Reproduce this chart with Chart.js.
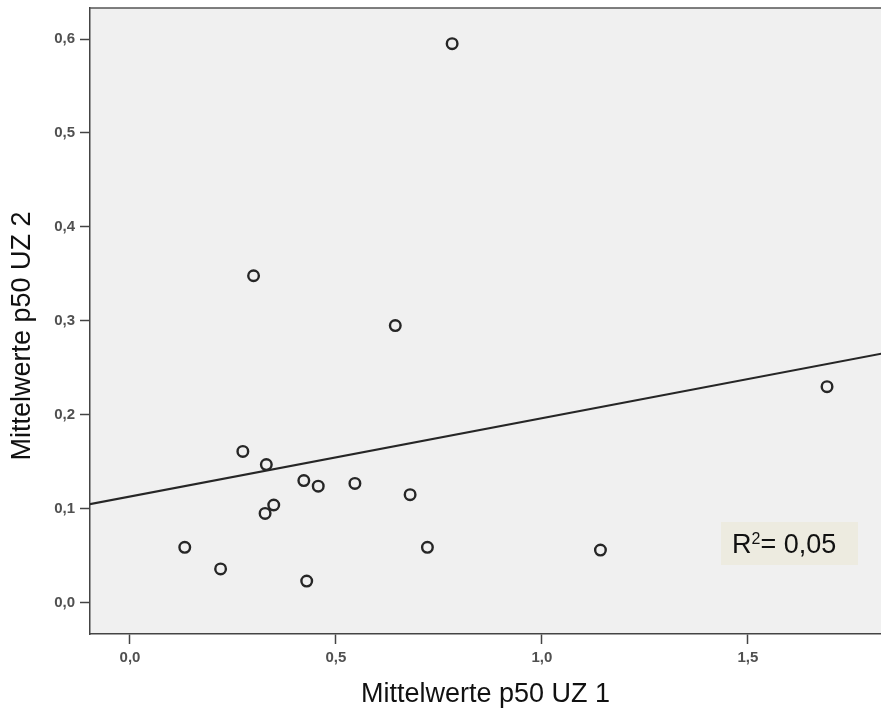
<!DOCTYPE html>
<html>
<head>
<meta charset="utf-8">
<script src="https://cdn.jsdelivr.net/npm/chart.js@4.4.1/dist/chart.umd.min.js"></script>
<style>
    html, body { margin: 0; padding: 0; background: #ffffff; overflow: hidden; }
    #wrap { width: 881px; height: 711px; }
</style>
</head>
<body>
<div id="wrap"><canvas id="scatterChart" width="881" height="711"></canvas></div>
<script>
// Mittelwerte p50
const uz1Values = [0.782, 0.300, 0.644, 1.692, 0.274, 0.331, 0.422, 0.457, 0.546,
                   0.680, 0.349, 0.328, 0.133, 0.220, 0.429, 0.722, 1.142];
const uz2Values = [0.595, 0.348, 0.295, 0.230, 0.161, 0.147, 0.130, 0.124, 0.127,
                   0.115, 0.104, 0.095, 0.059, 0.036, 0.023, 0.059, 0.056];

// linear fit line (two end points)
const fitX = [-0.1, 1.85];
const fitY = [0.1047, 0.2673];

const xTickValues = [0.0, 0.5, 1.0, 1.5];
const yTickValues = [0.0, 0.1, 0.2, 0.3, 0.4, 0.5, 0.6];

const rSquaredValue = '0,05';
const xAxisTitle = 'Mittelwerte p50 UZ 1';
const yAxisTitle = 'Mittelwerte p50 UZ 2';

const fontFamily = "'Liberation Sans', Arial, Helvetica, sans-serif";

function formatTick(value) {
    return value.toFixed(1).replace('.', ',');
}

// plot background, top frame, y title and the R² box
const framePlugin = {
    id: 'framePlugin',
    beforeDraw(chart) {
        const { ctx, chartArea: a } = chart;
        ctx.save();
        ctx.fillStyle = '#f0f0f0';
        ctx.fillRect(a.left, a.top, a.right - a.left, a.bottom - a.top);
        ctx.restore();
    },
    afterDraw(chart) {
        const { ctx, chartArea: a } = chart;
        ctx.save();
        ctx.strokeStyle = '#555555';
        ctx.lineWidth = 1.5;
        ctx.beginPath();
        ctx.moveTo(a.left, a.top);
        ctx.lineTo(a.right, a.top);
        ctx.stroke();

        // y axis title (sits a little below the middle, as in SPSS)
        ctx.save();
        ctx.translate(23, (a.top + a.bottom) / 2 + 15);
        ctx.rotate(-Math.PI / 2);
        ctx.fillStyle = '#111111';
        ctx.font = '27px ' + fontFamily;
        ctx.textAlign = 'center';
        ctx.textBaseline = 'middle';
        ctx.fillText(yAxisTitle, 0, 0);
        ctx.restore();

        // R² label box
        const boxW = 137, boxH = 43;
        const boxX = a.right - 23 - boxW;
        const boxY = a.bottom - 69 - boxH;
        ctx.fillStyle = '#edebe0';
        ctx.fillRect(boxX, boxY, boxW, boxH);

        ctx.fillStyle = '#111111';
        ctx.textBaseline = 'alphabetic';
        ctx.textAlign = 'left';
        let tx = boxX + 11;
        const baseY = boxY + 31;
        ctx.font = '27px ' + fontFamily;
        ctx.fillText('R', tx, baseY);
        tx += ctx.measureText('R').width;
        ctx.font = '16px ' + fontFamily;
        ctx.fillText('2', tx, baseY - 9);
        tx += ctx.measureText('2').width;
        ctx.font = '27px ' + fontFamily;
        ctx.fillText('= ' + rSquaredValue, tx, baseY);
        ctx.restore();
    }
};

function createScatterChart() {
    const ctx = document.getElementById('scatterChart');
    if (!ctx) return null;

    const points = uz1Values.map((x, i) => ({ x: x, y: uz2Values[i] }));
    const fitLine = fitX.map((x, i) => ({ x: x, y: fitY[i] }));

    return new Chart(ctx, {
        type: 'scatter',
        data: {
            datasets: [
                {
                    label: 'Werte',
                    data: points,
                    pointRadius: 5.3,
                    pointHoverRadius: 5.3,
                    pointBorderWidth: 2.4,
                    pointBorderColor: '#262626',
                    pointBackgroundColor: 'rgba(0,0,0,0)',
                    order: 1
                },
                {
                    label: 'Anpassungslinie',
                    type: 'line',
                    data: fitLine,
                    borderColor: '#262626',
                    borderWidth: 2,
                    pointRadius: 0,
                    fill: false,
                    order: 2
                }
            ]
        },
        options: {
            responsive: false,
            animation: false,
            events: [],
            layout: {
                autoPadding: false,
                padding: { top: 8, right: 0, left: 0, bottom: 0 }
            },
            plugins: {
                legend: { display: false },
                tooltip: { enabled: false }
            },
            scales: {
                x: {
                    type: 'linear',
                    min: -0.097,
                    max: 1.823,
                    afterBuildTicks: scale => {
                        scale.ticks = xTickValues.map(v => ({ value: v }));
                    },
                    afterFit: scale => {
                        scale.height = 77;
                        scale.paddingLeft = 0;
                        scale.paddingRight = 0;
                    },
                    border: { display: true, color: '#444444', width: 1.5 },
                    grid: {
                        drawOnChartArea: false,
                        drawTicks: true,
                        tickLength: 10,
                        tickWidth: 1.5,
                        tickColor: '#444444'
                    },
                    ticks: {
                        padding: 5,
                        color: '#505050',
                        font: { size: 15, weight: 'bold', family: fontFamily },
                        maxRotation: 0,
                        callback: value => formatTick(value)
                    },
                    title: {
                        display: true,
                        text: xAxisTitle,
                        color: '#111111',
                        font: { size: 27, family: fontFamily },
                        padding: { top: 2, bottom: 0 }
                    }
                },
                y: {
                    type: 'linear',
                    min: -0.0333,
                    max: 0.633,
                    afterBuildTicks: scale => {
                        scale.ticks = yTickValues.map(v => ({ value: v }));
                    },
                    afterFit: scale => {
                        scale.width = 90;
                        scale.paddingTop = 0;
                        scale.paddingBottom = 0;
                    },
                    border: { display: true, color: '#444444', width: 1.5 },
                    grid: {
                        drawOnChartArea: false,
                        drawTicks: true,
                        tickLength: 10,
                        tickWidth: 1.5,
                        tickColor: '#444444'
                    },
                    ticks: {
                        padding: 5,
                        color: '#505050',
                        font: { size: 15, weight: 'bold', family: fontFamily },
                        callback: value => formatTick(value)
                    },
                    title: { display: false }
                }
            }
        },
        plugins: [framePlugin]
    });
}

document.addEventListener('DOMContentLoaded', () => {
    window.scatterChart = createScatterChart();
});
</script>
</body>
</html>
